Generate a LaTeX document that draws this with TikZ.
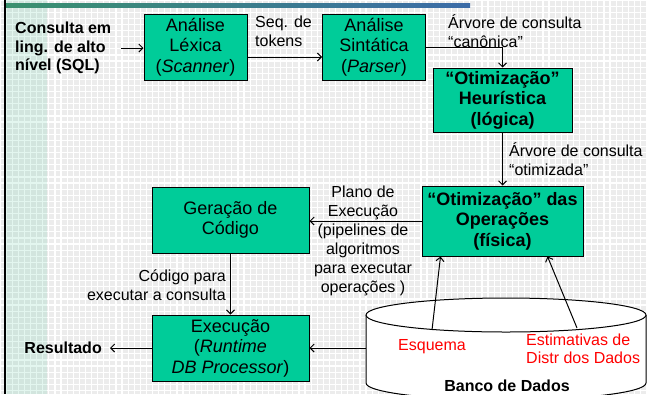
\documentclass[tikz,border=0pt]{standalone}
\usepackage{fontspec}
\setmainfont{Liberation Sans}
\usetikzlibrary{arrows.meta,calc}
\definecolor{boxgreen}{RGB}{0,204,153}
\definecolor{gridgray}{RGB}{236,236,236}
\definecolor{barleft}{RGB}{58,145,110}
\definecolor{barright}{RGB}{60,108,168}
\definecolor{stripe}{RGB}{0,180,110}
\begin{document}
\begin{tikzpicture}[x=1pt,y=-1pt,
  box/.style={draw=black, line width=1pt, fill=boxgreen, align=center, inner sep=0pt,
              font=\fontsize{18}{20.5}\selectfont},
  boldbox/.style={box, font=\fontsize{18}{20.5}\selectfont\bfseries},
  lbl/.style={inner sep=0pt, font=\fontsize{16}{19}\selectfont},
  boldlbl/.style={inner sep=0pt, font=\fontsize{16}{18.5}\selectfont\bfseries},
  redlbl/.style={lbl, text=red, font=\fontsize{16}{18}\selectfont},
  arr/.style={-{Straight Barb[length=4pt,width=8pt]}, line width=1pt}]
\useasboundingbox (0,0) rectangle (647,394);
% background grid
\fill[gridgray] (0,0) rectangle (647,394);
\foreach \i in {0,...,106} {\draw[white, line width=1.2pt] (\i*6.1,0) -- (\i*6.1,394);}
\foreach \j in {0,...,65} {\draw[white, line width=1.2pt] (0,\j*6.1) -- (647,\j*6.1);}
\fill[stripe, opacity=0.11] (6,0) rectangle (47,394);
\draw[line width=2pt] (4.5,0) -- (4.5,394);
\shade[left color=barleft, right color=barright] (6,3) rectangle (470,7);
% database cylinder
\draw[fill=white, line width=1pt] (366,315) -- (366,383)
   arc[start angle=180, end angle=0, x radius=140, y radius=17] -- (646,315);
\draw[fill=white, line width=1pt] (506,315) ellipse[x radius=140, y radius=17];
\coordinate (dbwest) at (366,348);
\coordinate (esqfoot) at (432,330);
\coordinate (estfoot) at (577,328);
% boxes
\node[box, minimum width=103, minimum height=66] (lex) at (195.5,47) {Análise\\Léxica\\(\textit{Scanner})};
\node[box, minimum width=103, minimum height=66] (sin) at (374,47) {Análise\\Sintática\\(\textit{Parser})};
\node[boldbox, minimum width=139, minimum height=64] (heur) at (502.5,100) {“Otimização”\\Heurística\\(lógica)};
\node[boldbox, minimum width=161, minimum height=70] (oper) at (502.5,221) {“Otimização” das\\Operações\\(física)};
\node[box, minimum width=157, minimum height=66] (ger) at (230.5,220) {Geração de\\Código};
\node[box, minimum width=157, minimum height=66] (exe) at (230.5,348) {Execução\\(\textit{Runtime}\\\textit{DB Processor})};
% free labels
\node[boldlbl, anchor=west, align=left] (consulta) at (15,48) {Consulta em\\ling. de alto\\nível (SQL)};
\node[boldlbl, anchor=east] (resultado) at (102,348) {Resultado};
\node[lbl, anchor=west, align=left] (seq) at (255,31) {Seq. de\\tokens};
\node[lbl, anchor=west, align=left] (canon) at (448,31) {Árvore de consulta\\“canônica”};
\node[lbl, anchor=west, align=left] (otim) at (509,159) {Árvore de consulta\\“otimizada”};
\node[lbl, align=center] (plano) at (363,240.5) {Plano de\\Execução\\(pipelines de\\algoritmos\\para executar\\operações )};
\node[lbl, anchor=east, align=right] (codigo) at (226,285.5) {Código para\\executar a consulta};
\node[redlbl] (esq) at (432,347) {Esquema};
\node[redlbl, anchor=west, align=left] (estim) at (526,349) {Estimativas de\\Distr dos Dados};
\node[boldlbl] (banco) at (507,386) {Banco de Dados};
% connectors
\draw[arr] ($(consulta.east)+(10,0)$) -- (lex.west |- consulta.east);
\draw[arr] ($(lex.east)+(0,10)$) -- ($(sin.west)+(0,10)$);
\draw[arr] (sin.east) -| (heur.north);
\draw[arr] (heur.south) -- (oper.north);
\draw[arr] (oper.west) -- (oper.west -| ger.east);
\draw[arr] (ger.south) -- (exe.north);
\draw[arr] (dbwest) -- (dbwest -| exe.east);
\draw[arr] (exe.west) -- ($(resultado.east)+(8,0)$);
\draw[arr] (esqfoot) -- ($(oper.south west)+(19,0)$);
\draw[arr] (estfoot) -- ($(oper.south west)+(126,0)$);
\end{tikzpicture}
\end{document}
